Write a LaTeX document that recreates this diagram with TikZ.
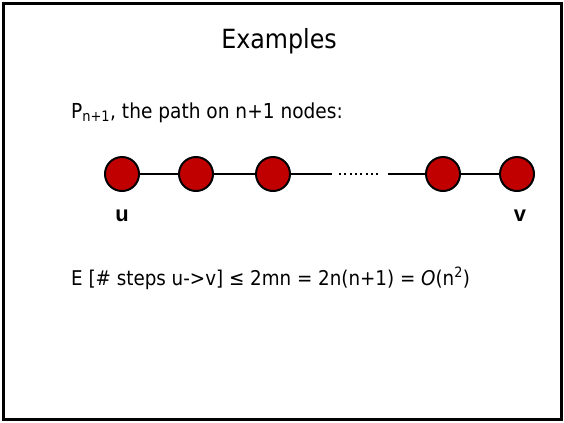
\documentclass[tikz,border=0pt]{standalone}
\usepackage{fontspec}
\setmainfont{DejaVu Sans}
\newfontfamily\labelfont{Liberation Sans}
\definecolor{nodered}{RGB}{192,0,0}
\usetikzlibrary{positioning}

\begin{document}
\begin{tikzpicture}[x=1bp, y=-1bp,
    vtx/.style={circle, draw=black, line width=2bp, fill=nodered,
                minimum size=34bp, inner sep=0pt},
    edge/.style={line width=1.6bp},
    lbl/.style={font=\labelfont\bfseries\fontsize{22}{26}\selectfont},
    txt/.style={anchor=base west, inner sep=0pt, xscale=0.9}
  ]
    \useasboundingbox (0,0) rectangle (564,422);
    % Frame
    \draw[line width=3bp] (3,3) rectangle (561,419);

    % Title and caption
    \node[anchor=base, inner sep=0pt, xscale=0.9] (title) at (279,48)
        {\fontsize{26.5}{31}\selectfont Examples};
    \node[txt, font=\fontsize{20.7}{24}\selectfont] (caption) at (71,118)
        {P\textsubscript{n+1}, the path on n+1 nodes:};

    % Path
    \node[vtx] (v1) at (122,174) {};
    \node[vtx] (v2) at (196,174) {};
    \node[vtx] (v3) at (273,174) {};
    \node[vtx] (v4) at (443,174) {};
    \node[vtx] (v5) at (517,174) {};
    \coordinate (gapL) at (332,174);
    \coordinate (dotL) at (339,174);
    \coordinate (dotR) at (381,174);
    \coordinate (gapR) at (388,174);
    \draw[edge] (v1) -- (v2);
    \draw[edge] (v2) -- (v3);
    \draw[edge] (v3) -- (gapL);
    \draw[line width=2bp, dash pattern=on 2bp off 3.3bp] (dotL) -- (dotR);
    \draw[edge] (gapR) -- (v4);
    \draw[edge] (v4) -- (v5);

    % End labels
    \node[lbl] (ulbl) at (122,216) {u};
    \node[lbl] (vlbl) at (520,216) {v};

    % Bound
    \node[txt, font=\fontsize{20.4}{24}\selectfont] (bound) at (71,285)
        {E [\# steps u->v] ≤ 2mn = 2n(n+1) = \textit{O}(n\textsuperscript{2})};
  \end{tikzpicture}
\end{document}
